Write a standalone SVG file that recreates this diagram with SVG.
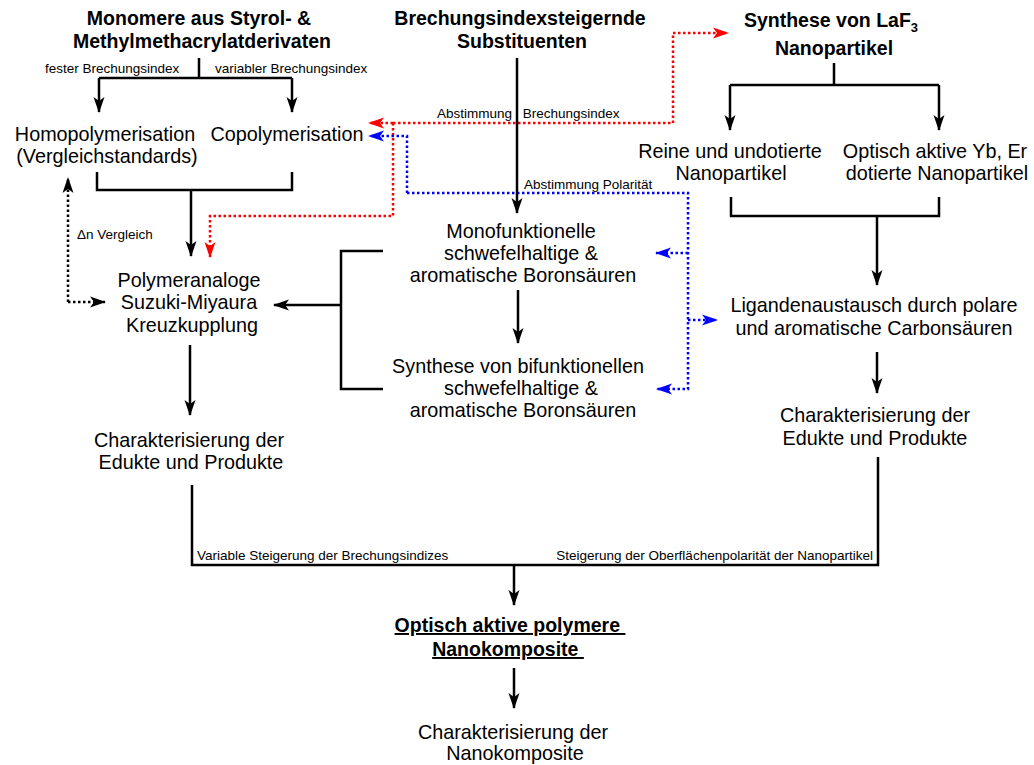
<svg xmlns="http://www.w3.org/2000/svg" width="1034" height="765" viewBox="0 0 1034 765">
<style>
text{font-family:"Liberation Sans",Arial,sans-serif;fill:#000}
.t{font-size:19.8px;text-anchor:middle}
.b{font-size:19.5px;font-weight:bold;text-anchor:middle}
.s{font-size:13.5px}
.ln{fill:none;stroke:#000;stroke-width:2.5}
.dk{fill:none;stroke:#000;stroke-width:2.5;stroke-dasharray:2.5 2.5}
.dr{fill:none;stroke:#ff0000;stroke-width:2.5;stroke-dasharray:2.5 2.5}
.db{fill:none;stroke:#0000ff;stroke-width:2.5;stroke-dasharray:2.5 2.5}
.ak{marker-end:url(#ak)}
.ar{marker-end:url(#ar)}
.abl{marker-end:url(#abl)}
</style>
<defs>
<marker id="ak" markerUnits="userSpaceOnUse" markerWidth="18" markerHeight="14" viewBox="-16 -7 18 14" refX="0" refY="0" orient="auto"><path d="M1,0 L-15,-5.5 L-11,0 L-15,5.5 Z" fill="#000"/></marker>
<marker id="ar" markerUnits="userSpaceOnUse" markerWidth="18" markerHeight="14" viewBox="-16 -7 18 14" refX="0" refY="0" orient="auto"><path d="M1,0 L-15,-5.5 L-11,0 L-15,5.5 Z" fill="#ff0000"/></marker>
<marker id="abl" markerUnits="userSpaceOnUse" markerWidth="18" markerHeight="14" viewBox="-16 -7 18 14" refX="0" refY="0" orient="auto"><path d="M1,0 L-15,-5.5 L-11,0 L-15,5.5 Z" fill="#0000ff"/></marker>
</defs>
<rect width="1034" height="765" fill="#fff"/>

<g id="connectors">
<path class="ln" d="M199,58 V78 M99,78 H292"/>
<path class="ln ak" d="M99,78 V112"/>
<path class="ln ak" d="M292,78 V112"/>
<path class="ln" d="M97,172 V190 H292 V172"/>
<path class="ln ak" d="M191,190 V256"/>
<path class="dk ak" d="M68,302 V178"/>
<path class="dk ak" d="M68,302 H105"/>
<path class="dr ar" d="M393,123 H369"/>
<path class="dr ar" d="M393,123 H673 V33 H728"/>
<path class="dr ar" d="M393,123 V216 H210 V257"/>
<path class="db abl" d="M407,193 V136 H369"/>
<path class="db abl" d="M407,193 H688 V389 H657"/>
<path class="db abl" d="M688,253 H656"/>
<path class="db abl" d="M688,320 H717"/>
<path class="ln ak" d="M517,58 V213"/>
<path class="ln ak" d="M518,290 V343"/>
<path class="ln" d="M383,251 H341 V389 H383"/>
<path class="ln ak" d="M341,305 H274"/>
<path class="ln ak" d="M190,345 V415"/>
<path class="ln" d="M834,63 V85 M730,85 H939"/>
<path class="ln ak" d="M730,85 V130"/>
<path class="ln ak" d="M939,85 V130"/>
<path class="ln" d="M731,197 V216 H939 V197"/>
<path class="ln ak" d="M877,216 V285"/>
<path class="ln ak" d="M877,352 V393"/>
<path class="ln" d="M878,457 V565 H192 V485"/>
<path class="ln ak" d="M514,565 V605"/>
<path class="ln ak" d="M514,668 V708"/>
<text class="s" x="45" y="73">fester Brechungsindex</text>
<text class="s" x="215" y="73">variabler Brechungsindex</text>
<text class="s" x="437" y="118" word-spacing="7">Abstimmung Brechungsindex</text>
<text class="s" x="524" y="189">Abstimmung Polarität</text>
<text class="s" x="77" y="239">Δn Vergleich</text>
<text class="s" x="197" y="560">Variable Steigerung der Brechungsindizes</text>
<text class="s" x="873" y="560" text-anchor="end">Steigerung der Oberflächenpolarität der Nanopartikel</text>
</g>

<g id="monomere">
<text class="b" x="199" y="25">Monomere aus Styrol- &amp;</text>
<text class="b" x="202" y="48">Methylmethacrylatderivaten</text>
</g>
<g id="substituenten">
<text class="b" x="520" y="25">Brechungsindexsteigernde</text>
<text class="b" x="522" y="48">Substituenten</text>
</g>
<g id="laf3">
<text class="b" x="831" y="27">Synthese von LaF<tspan font-size="13" dy="5">3</tspan></text>
<text class="b" x="834" y="55">Nanopartikel</text>
</g>
<g id="homopolymerisation">
<text class="t" x="105" y="141">Homopolymerisation</text>
<text class="t" x="107" y="163">(Vergleichstandards)</text>
</g>
<g id="copolymerisation">
<text class="t" x="287" y="141">Copolymerisation</text>
</g>
<g id="suzuki">
<text class="t" x="189" y="287">Polymeranaloge</text>
<text class="t" x="189" y="309">Suzuki-Miyaura</text>
<text class="t" x="192" y="332">Kreuzkupplung</text>
</g>
<g id="char-left">
<text class="t" x="189" y="447">Charakterisierung der</text>
<text class="t" x="191" y="469">Edukte und Produkte</text>
</g>
<g id="monofunktionelle">
<text class="t" x="521" y="238">Monofunktionelle</text>
<text class="t" x="521" y="260">schwefelhaltige &amp;</text>
<text class="t" x="523" y="282">aromatische Boronsäuren</text>
</g>
<g id="bifunktionelle">
<text class="t" x="518" y="373">Synthese von bifunktionellen</text>
<text class="t" x="521" y="395">schwefelhaltige &amp;</text>
<text class="t" x="523" y="417">aromatische Boronsäuren</text>
</g>
<g id="reine">
<text class="t" x="730" y="158">Reine und undotierte</text>
<text class="t" x="731" y="180">Nanopartikel</text>
</g>
<g id="dotierte">
<text class="t" x="935" y="158">Optisch aktive Yb, Er</text>
<text class="t" x="937" y="180">dotierte Nanopartikel</text>
</g>
<g id="ligandenaustausch">
<text class="t" x="874" y="312">Ligandenaustausch durch polare</text>
<text class="t" x="874" y="335">und aromatische Carbonsäuren</text>
</g>
<g id="char-right">
<text class="t" x="875" y="422">Charakterisierung der</text>
<text class="t" x="875" y="445">Edukte und Produkte</text>
</g>
<g id="nanokomposite">
<text class="b" x="510" y="632" text-decoration="underline" style="white-space:pre">Optisch aktive polymere </text>
<text class="b" x="508" y="656" text-decoration="underline" style="white-space:pre">Nanokomposite </text>
</g>
<g id="char-nano">
<text class="t" x="513" y="739">Charakterisierung der</text>
<text class="t" x="515" y="760">Nanokomposite</text>
</g>
</svg>
